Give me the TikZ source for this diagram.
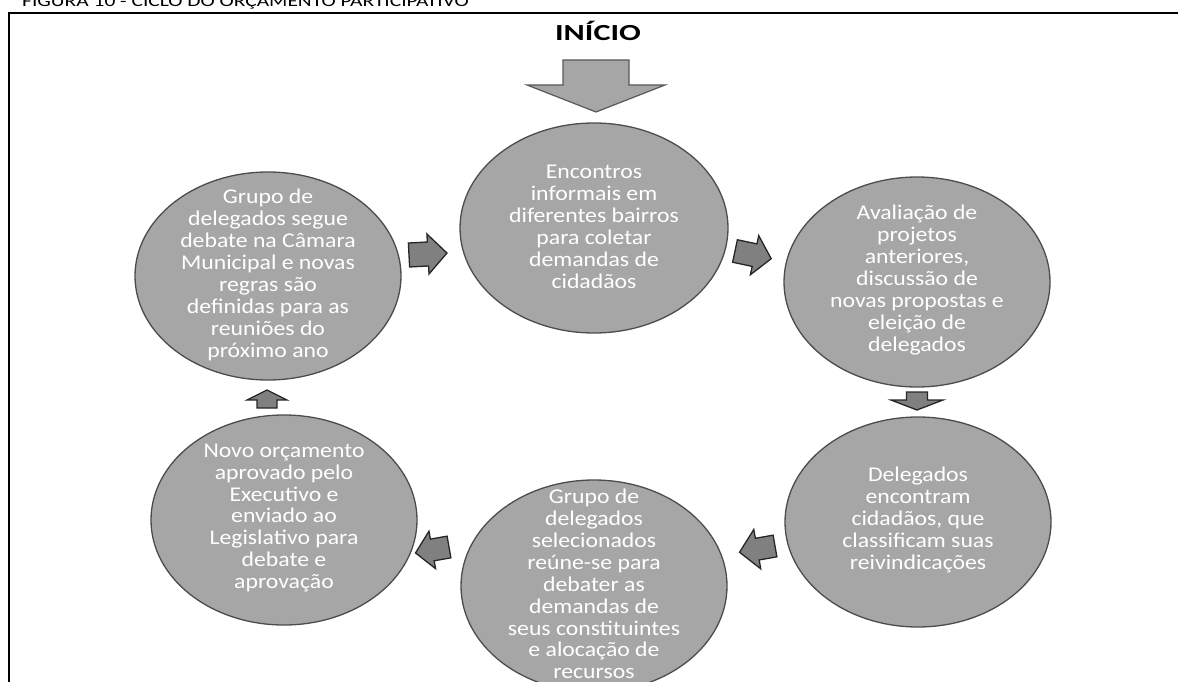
\documentclass[tikz,border=0pt]{standalone}
\usepackage{fontspec}
\setmainfont{Carlito}[FakeStretch=1.13]
\newfontfamily\headfont{Carlito}[FakeStretch=1.4]
\newfontfamily\captionfont{Carlito}[FakeStretch=1.34]
\begin{document}
\begin{tikzpicture}[x=1pt,y=-1pt,
  stage/.style={draw=black!70, line width=1.3pt, fill=black!35},
  stagetext/.style={text=white, align=center, inner sep=0pt,
    font=\fontsize{21}{21.9}\selectfont},
  smallarrow/.style={draw=black!85, line width=1.3pt, fill=black!50, line join=miter},
  bigarrow/.style={draw=black!65, line width=1.2pt, fill=black!35, line join=miter},
  pics/blockarrow/.style args={#1/#2/#3/#4}{code={
    % #1 length, #2 shaft half-width, #3 head half-width, #4 head length
    \path[pic actions] (0,-#2) -- ({#1-#4},-#2) -- ({#1-#4},-#3) -- (#1,0)
      -- ({#1-#4},#3) -- ({#1-#4},#2) -- (0,#2) -- cycle;
  }}]
\useasboundingbox (0,0) rectangle (1178,682);
\clip (0,0) rectangle (1178,682);

% frame and caption
\draw[line width=2pt] (9,682) -- (9,13) -- (1178,13);
\node[anchor=base west, inner sep=0pt, font=\captionfont\fontsize{16}{16}\selectfont] (caption)
  at (22,7) {FIGURA 10 - CICLO DO ORÇAMENTO PARTICIPATIVO};

% start marker
\node[font=\headfont\fontsize{23}{23}\selectfont\bfseries, inner sep=0pt] (inicio) at (598,31) {INÍCIO};
\pic[bigarrow, shift={(596,60)}, rotate=-90] (startarrow) {blockarrow={52/33/69/27}};

% stages of the cycle
\path[stage] (594,228) ellipse [x radius=134, y radius=105];
\path[stage] (917,282) ellipse [x radius=133, y radius=105];
\path[stage] (918,522) ellipse [x radius=133, y radius=105];
\path[stage] (594,586) ellipse [x radius=133, y radius=106];
\path[stage] (284,520) ellipse [x radius=133, y radius=105];
\path[stage] (268,276) ellipse [x radius=133, y radius=104];

\node[stagetext] (s1) at (594,227) {Encontros\\informais em\\diferentes bairros\\para coletar\\demandas de\\cidadãos};
\node[stagetext] (s2) at (917,280) {Avaliação de\\projetos\\anteriores,\\discussão de\\novas propostas e\\eleição de\\delegados};
\node[stagetext] (s3) at (918,520) {Delegados\\encontram\\cidadãos, que\\classificam suas\\reivindicações};
\node[stagetext] (s4) at (594,584) {Grupo de\\delegados\\selecionados\\reúne-se para\\debater as\\demandas de\\seus constituintes\\e alocação de\\recursos};
\node[stagetext] (s5) at (284,518) {Novo orçamento\\aprovado pelo\\Executivo e\\enviado ao\\Legislativo para\\debate e\\aprovação};
\node[stagetext] (s6) at (268,275) {Grupo de\\delegados segue\\debate na Câmara\\Municipal e novas\\regras são\\definidas para as\\reuniões do\\próximo ano};

% arrows between stages
\pic[smallarrow, shift={(409,255)}, rotate=3] (a61) {blockarrow={38/12/20/19}};
\pic[smallarrow, shift={(735,251)}, rotate=-12] (a12) {blockarrow={37/11.5/20/17}};
\pic[smallarrow, shift={(917,392)}, rotate=-90] (a23) {blockarrow={18/10.5/26/10}};
\pic[smallarrow, shift={(775,546)}, rotate=190] (a34) {blockarrow={36/11/20/18}};
\pic[smallarrow, shift={(449,547)}, rotate=190] (a45) {blockarrow={34/11/19/17}};
\pic[smallarrow, shift={(267,408)}, rotate=90] (a56) {blockarrow={18/10/20/10}};
\end{tikzpicture}
\end{document}
